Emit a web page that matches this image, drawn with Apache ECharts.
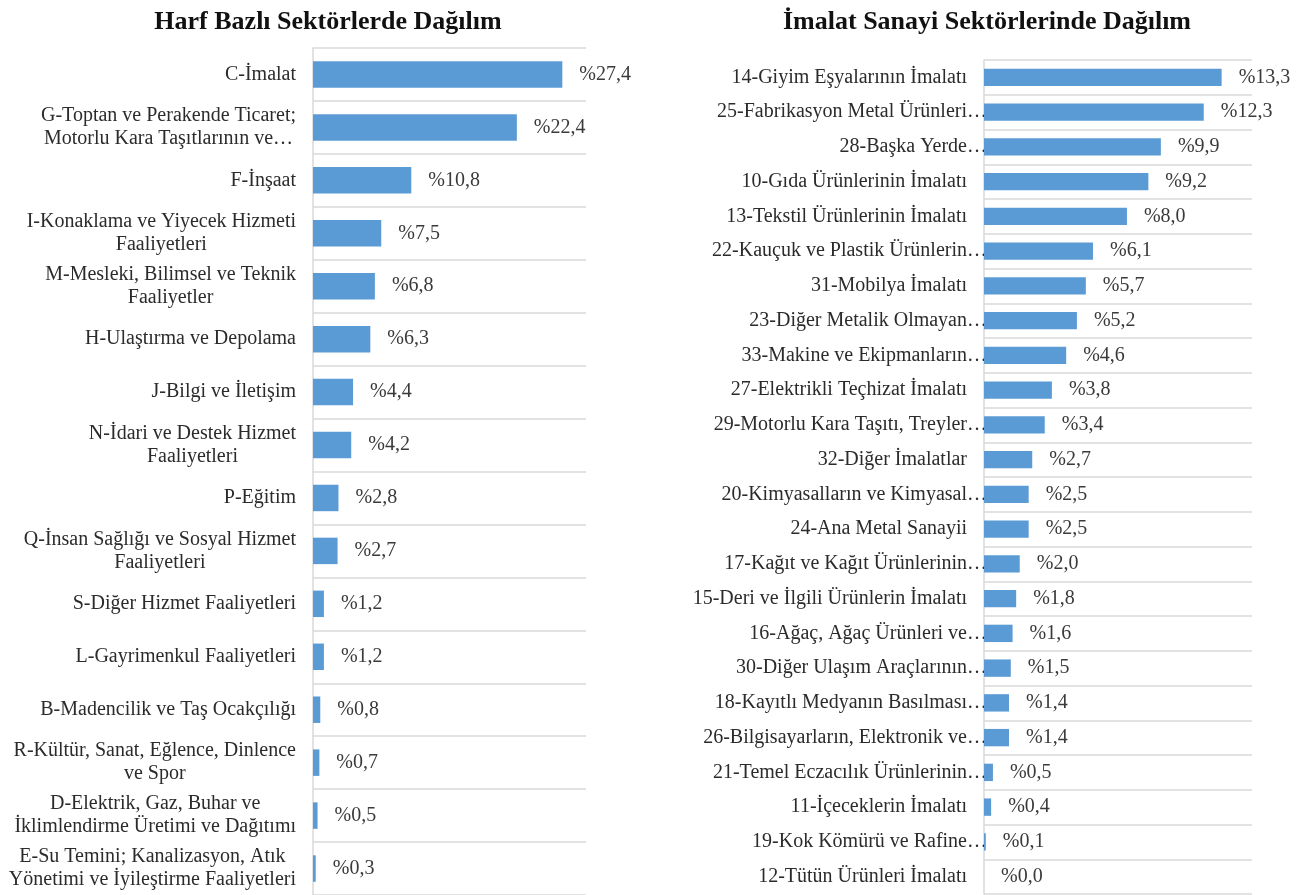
<!DOCTYPE html>
<html lang="tr">
<head>
<meta charset="utf-8">
<title>Sektörel Dağılım</title>
<script src="https://cdn.jsdelivr.net/npm/echarts@6/dist/echarts.min.js"></script>
<style>
  html, body { margin: 0; padding: 0; background: #ffffff; }
  #chart { width: 1298px; height: 895px; }
</style>
</head>
<body>
<div id="chart"></div>
<script>
// Harf bazlı sektörler (üstten alta)
const letterSectors = [
  'C-İmalat',
  'G-Toptan ve Perakende Ticaret;\nMotorlu Kara Taşıtlarının ve…',
  'F-İnşaat',
  'I-Konaklama ve Yiyecek Hizmeti\nFaaliyetleri',
  'M-Mesleki, Bilimsel ve Teknik\nFaaliyetler',
  'H-Ulaştırma ve Depolama',
  'J-Bilgi ve İletişim',
  'N-İdari ve Destek Hizmet\nFaaliyetleri',
  'P-Eğitim',
  'Q-İnsan Sağlığı ve Sosyal Hizmet\nFaaliyetleri',
  'S-Diğer Hizmet Faaliyetleri',
  'L-Gayrimenkul Faaliyetleri',
  'B-Madencilik ve Taş Ocakçılığı',
  'R-Kültür, Sanat, Eğlence, Dinlence\nve Spor',
  'D-Elektrik, Gaz, Buhar ve\nİklimlendirme Üretimi ve Dağıtımı',
  'E-Su Temini; Kanalizasyon, Atık\nYönetimi ve İyileştirme Faaliyetleri'
];
const letterShares = [27.4, 22.4, 10.8, 7.5, 6.8, 6.3, 4.4, 4.2, 2.8, 2.7, 1.2, 1.2, 0.8, 0.7, 0.5, 0.3];

// İmalat sanayi alt sektörleri (üstten alta)
const mfgSectors = [
  '14-Giyim Eşyalarının İmalatı',
  '25-Fabrikasyon Metal Ürünleri…',
  '28-Başka Yerde…',
  '10-Gıda Ürünlerinin İmalatı',
  '13-Tekstil Ürünlerinin İmalatı',
  '22-Kauçuk ve Plastik Ürünlerin…',
  '31-Mobilya İmalatı',
  '23-Diğer Metalik Olmayan…',
  '33-Makine ve Ekipmanların…',
  '27-Elektrikli Teçhizat İmalatı',
  '29-Motorlu Kara Taşıtı, Treyler…',
  '32-Diğer İmalatlar',
  '20-Kimyasalların ve Kimyasal…',
  '24-Ana Metal Sanayii',
  '17-Kağıt ve Kağıt Ürünlerinin…',
  '15-Deri ve İlgili Ürünlerin İmalatı',
  '16-Ağaç, Ağaç Ürünleri ve…',
  '30-Diğer Ulaşım Araçlarının…',
  '18-Kayıtlı Medyanın Basılması…',
  '26-Bilgisayarların, Elektronik ve…',
  '21-Temel Eczacılık Ürünlerinin…',
  '11-İçeceklerin İmalatı',
  '19-Kok Kömürü ve Rafine…',
  '12-Tütün Ürünleri İmalatı'
];
const mfgShares = [13.3, 12.3, 9.9, 9.2, 8.0, 6.1, 5.7, 5.2, 4.6, 3.8, 3.4, 2.7, 2.5, 2.5, 2.0, 1.8, 1.6, 1.5, 1.4, 1.4, 0.5, 0.4, 0.1, 0.0];

const titles = ['Harf Bazlı Sektörlerde Dağılım', 'İmalat Sanayi Sektörlerinde Dağılım'];

const FONT = '"Liberation Serif", "DejaVu Serif", serif';
const BAR_COLOR = '#5b9bd5';
const GRID_COLOR = '#d9d9d9';
const TEXT_COLOR = '#2b2b2b';

const pct = v => '%' + v.toFixed(1).replace('.', ',');

// Multi-line labels: each line centred, the block right-aligned to the axis
const centredLines = v => v.split('\n').map(l => '{c|' + l + '}').join('\n');
// Truncated labels: the ellipsis hangs past the right edge of the text block
const hangingEllipsis = v => v.endsWith('…')
  ? '{t|' + v.slice(0, -1) + '}{e|…}'
  : '{t|' + v + '}';

const labelText = { fontFamily: FONT, fontSize: 20, color: TEXT_COLOR };

function categoryAxis(gridIndex, data, formatter, rich) {
  return {
    type: 'category',
    gridIndex,
    data,
    inverse: true,
    axisLine: { show: true, lineStyle: { color: GRID_COLOR, width: 1.5 } },
    axisTick: { show: false },
    splitLine: { show: true, lineStyle: { color: GRID_COLOR, width: 1.5 } },
    axisLabel: {
      margin: 17,
      align: 'right',
      formatter,
      rich,
      ...labelText
    }
  };
}

function valueAxis(gridIndex, max) {
  return {
    type: 'value',
    gridIndex,
    min: 0,
    max,
    show: false,
    splitLine: { show: false }
  };
}

function barSeries(index, data) {
  return {
    type: 'bar',
    xAxisIndex: index,
    yAxisIndex: index,
    data,
    barWidth: '50%',
    itemStyle: { color: BAR_COLOR },
    label: {
      show: true,
      position: 'right',
      distance: 17,
      formatter: p => pct(p.value),
      fontFamily: FONT,
      fontSize: 20,
      color: '#3a3a3a'
    },
    animation: false
  };
}

const chart = echarts.init(document.getElementById('chart'), null, { renderer: 'canvas' });

const titleStyle = { fontFamily: FONT, fontSize: 26, fontWeight: 'bold', color: '#111111' };

chart.setOption({
  backgroundColor: '#ffffff',
  animation: false,
  title: [
    { text: titles[0], left: 323, top: 4, textAlign: 'center', textStyle: titleStyle },
    { text: titles[1], left: 982, top: 4, textAlign: 'center', textStyle: titleStyle }
  ],
  grid: [
    { left: 313, top: 48, width: 273, height: 851, containLabel: false },
    { left: 984, top: 60, width: 268, height: 834, containLabel: false }
  ],
  xAxis: [valueAxis(0, 30), valueAxis(1, 15)],
  yAxis: [
    categoryAxis(0, letterSectors, centredLines, {
      c: { align: 'center', lineHeight: 23, ...labelText }
    }),
    categoryAxis(1, mfgSectors, hangingEllipsis, {
      t: { align: 'left', ...labelText },
      e: { align: 'left', width: 0, ...labelText }
    })
  ],
  series: [barSeries(0, letterShares), barSeries(1, mfgShares)]
});
</script>
</body>
</html>
